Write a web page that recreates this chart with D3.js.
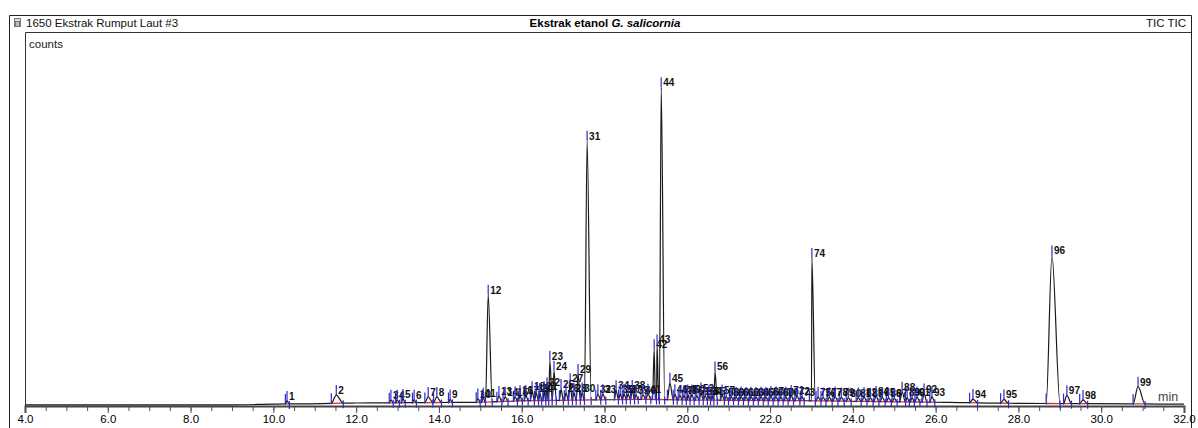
<!DOCTYPE html>
<meta charset="utf-8">
<style>
	body { margin: 0; background: white; }
	text { font-family: Arial, "Liberation Sans", sans-serif; }
	.plabel { font-size: 10px; font-weight: bold; fill: #111; }
	.axis text { font-size: 11.5px; fill: #000; }
	.axis path, .axis line { stroke: #555; }
</style>
<script src="https://d3js.org/d3.v7.min.js"></script>
<body>
<script>

	// peak table (retention time in min, height in % of full scale, half width in min)
	var peakNo = [1,2,3,4,5,6,7,8,9,10,11,12,13,14,15,16,17,18,19,20,21,22,23,24,25,26,27,28,29,30,
		31,32,33,34,35,36,37,38,39,40,41,42,43,44,45,46,47,48,49,50,51,52,53,54,55,56,57,58,59,60,
		61,62,63,64,65,66,67,68,69,70,71,72,73,74,75,76,77,78,79,80,81,82,83,84,85,86,87,88,89,90,
		91,92,93,94,95,96,97,98,99];

	var peakRT = [10.33,11.52,12.84,12.99,13.13,13.40,13.74,13.95,14.27,14.94,15.07,15.19,15.45,15.60,15.84,15.96,16.10,16.25,16.35,16.44,
		16.54,16.61,16.68,16.78,16.95,17.07,17.17,17.26,17.36,17.46,17.58,17.84,17.96,18.28,18.38,18.47,18.57,18.67,18.76,18.93,
		19.05,19.20,19.27,19.37,19.58,19.70,19.82,19.92,20.01,20.11,20.23,20.33,20.43,20.52,20.60,20.67,20.84,20.94,21.06,21.18,
		21.30,21.42,21.54,21.66,21.78,21.90,22.02,22.14,22.26,22.38,22.51,22.65,22.77,23.01,23.16,23.28,23.43,23.57,23.72,23.89,
		24.13,24.27,24.42,24.56,24.71,24.86,25.00,25.19,25.31,25.43,25.55,25.72,25.91,26.90,27.65,28.81,29.17,29.56,30.89];

	var peakH = [0.8,2.2,0.8,0.8,1.0,0.8,1.5,1.5,0.8,1.0,1.2,28.7,1.5,1.2,1.2,1.5,1.5,2.5,2.0,2.0,
		2.5,3.5,10.6,7.9,3.0,2.0,4.5,2.0,7.0,2.0,69.3,1.5,1.5,2.5,1.5,1.5,1.5,2.5,1.2,1.2,
		1.5,13.4,14.7,83.5,4.5,1.5,1.2,1.2,1.5,1.5,1.2,2.0,1.2,1.2,1.2,7.7,1.5,1.0,1.0,0.9,
		1.0,0.9,1.0,0.9,1.0,0.9,1.2,1.0,0.9,1.0,1.5,1.2,1.0,38.2,1.0,0.9,1.0,1.2,1.0,0.9,
		1.0,1.2,1.0,1.5,1.2,1.0,0.9,2.7,1.2,1.2,1.4,2.3,1.5,1.0,1.0,39.6,2.2,1.0,4.6];

	var peakW = [0.04,0.12,0.04,0.04,0.04,0.04,0.08,0.08,0.04,0.04,0.04,0.07,0.05,0.05,0.04,0.04,0.04,0.04,0.04,0.03,
		0.03,0.03,0.04,0.04,0.04,0.04,0.04,0.04,0.04,0.04,0.07,0.05,0.05,0.04,0.04,0.04,0.04,0.04,0.04,0.05,
		0.05,0.04,0.04,0.06,0.06,0.04,0.04,0.04,0.04,0.04,0.04,0.04,0.04,0.03,0.03,0.04,0.04,0.04,0.04,0.04,
		0.04,0.04,0.04,0.04,0.04,0.04,0.04,0.04,0.04,0.04,0.04,0.05,0.04,0.06,0.05,0.05,0.05,0.05,0.05,0.05,
		0.05,0.05,0.05,0.05,0.05,0.05,0.05,0.06,0.04,0.04,0.05,0.05,0.05,0.08,0.08,0.14,0.08,0.08,0.12];

	// drifting baseline of the TIC trace
	var baseRT  = [4.0, 9.0, 10.0, 12.0, 15.0, 16.0, 19.0, 20.0, 23.0, 26.0, 28.0, 32.0];
	var baseVal = [0.3, 0.3, 0.5, 0.8, 1.0, 1.4, 1.8, 1.6, 1.4, 1.0, 0.7, 0.5];

	var xTicks = [4,6,8,10,12,14,16,18,20,22,24,26,28,30,32];

	var W = 1198, H = 428;
	var plot = {left: 25, right: 1184, top: 32, bottom: 406};

	var svg = d3.select("body").append("svg")
		.attr("width", W)
		.attr("height", H);

	var x = d3.scaleLinear().domain([4, 32]).range([plot.left, plot.right]);
	var y = d3.scaleLinear().domain([0, 100]).range([plot.bottom, plot.top]);
	var base = d3.scaleLinear().domain(baseRT).range(baseVal).clamp(true);

	// frames
	svg.append("path")
		.attr("d", "M9.5,428V15.5H1191.5V428")
		.style("fill", "none").style("stroke", "#222").style("stroke-width", 1);
	svg.append("path")
		.attr("d", "M25.5,406V32.5H1191")
		.style("fill", "none").style("stroke", "#333").style("stroke-width", 1);

	// header
	var icon = svg.append("g").attr("transform", "translate(14,18)");
	icon.append("rect").attr("width", 7).attr("height", 9).style("fill", "#777");
	icon.append("rect").attr("x", 1).attr("y", 1).attr("width", 5).attr("height", 2).style("fill", "#ddd");
	icon.append("rect").attr("x", 2).attr("y", 4).attr("width", 3).attr("height", 4).style("fill", "#bbb");

	svg.append("text").attr("x", 26).attr("y", 27)
		.style("font-size", "11.5px").style("fill", "#111")
		.text("1650 Ekstrak Rumput Laut #3");

	var title = svg.append("text").attr("x", 605).attr("y", 27)
		.style("text-anchor", "middle").style("font-size", "11.5px").style("font-weight", "bold");
	title.append("tspan").text("Ekstrak etanol ");
	title.append("tspan").style("font-style", "italic").text("G. salicornia");

	svg.append("text").attr("x", 1186).attr("y", 27)
		.style("text-anchor", "end").style("font-size", "11.5px").style("fill", "#111")
		.text("TIC TIC");

	svg.append("text").attr("x", 29).attr("y", 48)
		.style("font-size", "11.5px").style("fill", "#222")
		.text("counts");

	// x axis
	svg.append("g")
		.attr("class", "axis")
		.attr("transform", "translate(0," + plot.bottom + ")")
		.call(d3.axisBottom(x).tickValues(d3.range(4, 32.01, 0.5)).tickSize(5).tickFormat(""))
		.call(function(g) { g.select(".domain").remove(); });

	svg.append("g")
		.attr("class", "axis")
		.attr("transform", "translate(0," + plot.bottom + ")")
		.call(d3.axisBottom(x).tickValues(xTicks).tickSize(7).tickPadding(2).tickFormat(d3.format(".1f")))
		.call(function(g) {
			g.select(".domain").style("stroke", "#444").style("stroke-width", 2);
		});

	svg.append("text").attr("x", 1158).attr("y", 401)
		.style("font-size", "12.5px").style("fill", "#444")
		.text("min");

	// build the trace from baseline knots and peak start / apex / end
	var pts = baseRT.map(function(t, i) { return [t, baseVal[i]]; });
	peakRT.forEach(function(t, i) {
		var s = t - peakW[i], e = t + peakW[i] * 1.4;
		pts.push([s, base(s)]);
		pts.push([t, base(t) + peakH[i]]);
		pts.push([e, base(e)]);
	});
	pts.sort(function(a, b) { return a[0] - b[0]; });
	var trace = [];
	pts.forEach(function(p) {
		var last = trace[trace.length - 1];
		if (last && Math.abs(last[0] - p[0]) < 1e-6) { last[1] = Math.max(last[1], p[1]); }
		else trace.push(p.slice());
	});

	// integration baselines (red)
	svg.append("g").selectAll("line")
		.data(peakRT)
		.join("line")
		.attr("x1", function(d, i) { return x(d - peakW[i]); })
		.attr("x2", function(d, i) { return x(d + peakW[i] * 1.4); })
		.attr("y1", function(d, i) { return y(base(d - peakW[i])); })
		.attr("y2", function(d, i) { return y(base(d + peakW[i] * 1.4)); })
		.style("stroke", "#e0301e").style("stroke-width", 1.3);

	var line = d3.line()
		.x(function(d) { return x(d[0]); })
		.y(function(d) { return y(d[1]); })
		.curve(d3.curveMonotoneX);

	svg.append("path")
		.datum(trace)
		.attr("d", line)
		.style("fill", "none")
		.style("stroke", "#1a1a1a")
		.style("stroke-width", 1.2);

	// start / end markers (blue)
	var marks = svg.append("g").style("stroke", "#2b2bd0").style("stroke-width", 1.2);
	peakRT.forEach(function(t, i) {
		var s = t - peakW[i], e = t + peakW[i] * 1.4;
		marks.append("line")
			.attr("x1", x(s)).attr("x2", x(s))
			.attr("y1", y(base(s)) - 10).attr("y2", y(base(s)) + 1);
		marks.append("line")
			.attr("x1", x(e)).attr("x2", x(e))
			.attr("y1", y(base(e)) - 3).attr("y2", y(base(e)) + 5);
	});

	// apex ticks and peak numbers
	var lab = svg.append("g").selectAll("g")
		.data(peakRT)
		.join("g")
		.attr("transform", function(d, i) {
			return "translate(" + x(d) + "," + y(base(d) + peakH[i]) + ")";
		});
	lab.append("line")
		.attr("y1", -10).attr("y2", 0)
		.style("stroke", "#2b2bd0").style("stroke-width", 1.2);
	lab.append("text")
		.attr("class", "plabel")
		.attr("x", 2).attr("y", -1)
		.text(function(d, i) { return peakNo[i]; });

</script>
</body>
